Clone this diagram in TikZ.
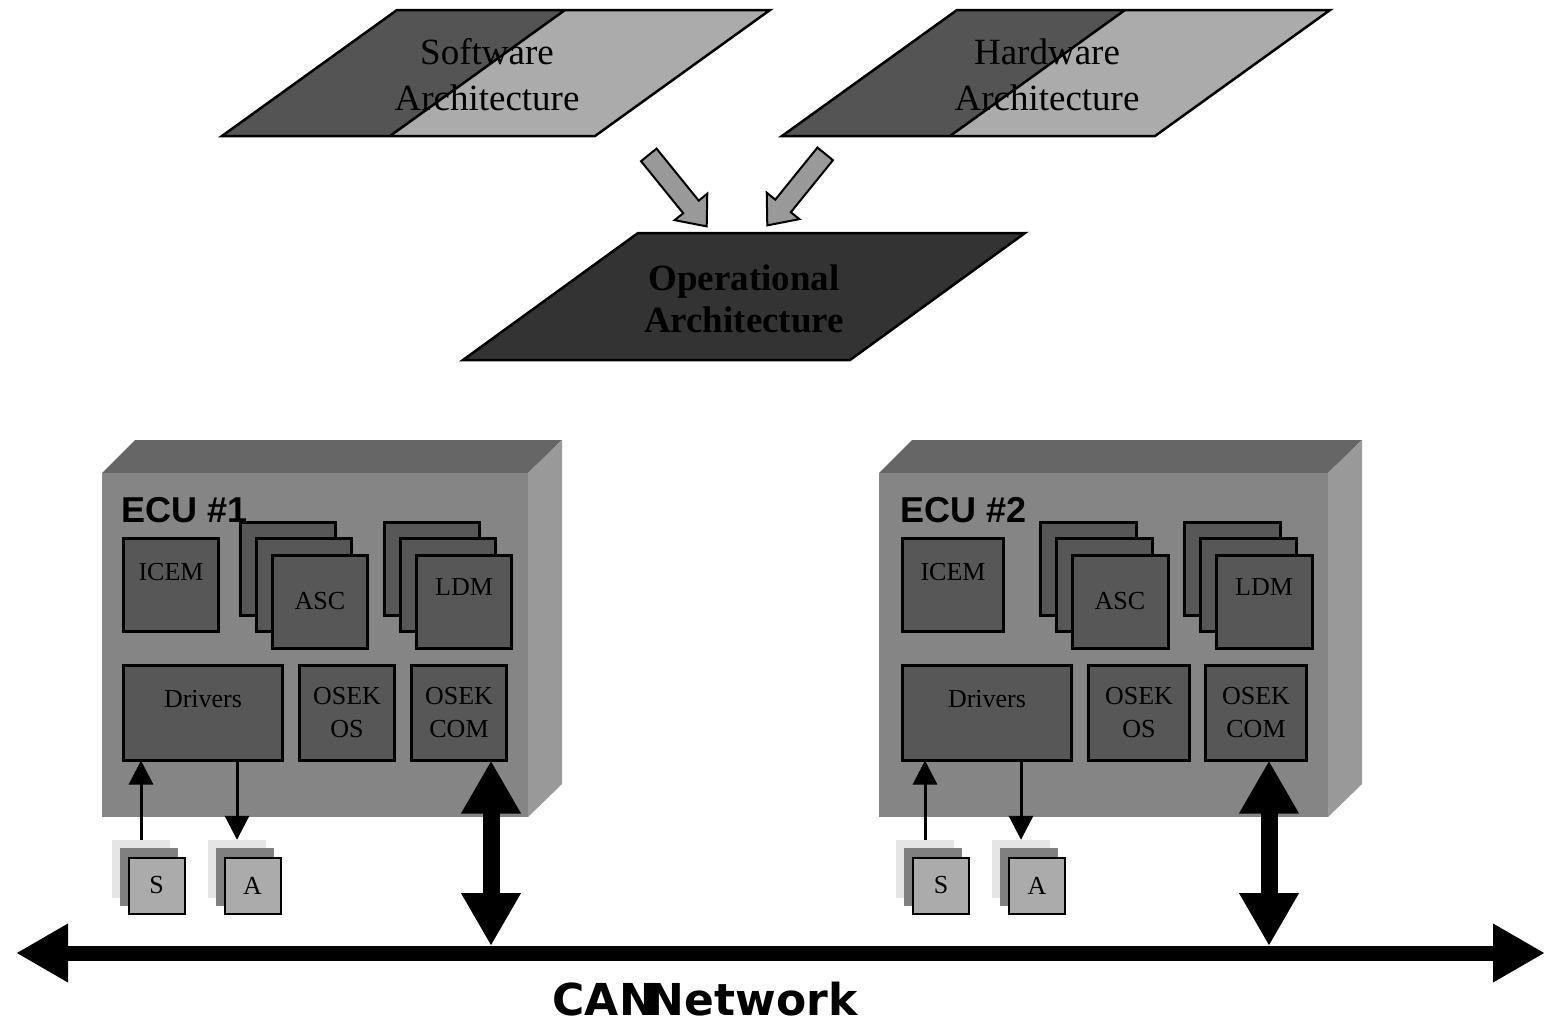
\documentclass[tikz,border=0pt]{standalone}
\usepackage{fontspec}
\setmainfont{Liberation Serif}
\newfontfamily\ecufont{Liberation Sans}
\newfontfamily\canfont{DejaVu Sans}
\usepackage{xcolor}
\usepackage{tikz}
\usetikzlibrary{shapes.arrows, arrows.meta, positioning, calc}

\definecolor{darkpart}{gray}{0.33}
\definecolor{lightpart}{gray}{0.67}
\definecolor{opgray}{gray}{0.2}
\definecolor{flowgray}{gray}{0.6}
\definecolor{ecufront}{gray}{0.52}
\definecolor{ecutop}{gray}{0.4}
\definecolor{ecuside}{gray}{0.6}
\definecolor{blkgray}{gray}{0.34}
\definecolor{iobright}{gray}{0.9}
\definecolor{iomid}{gray}{0.5}
\definecolor{iofront}{gray}{0.67}

\begin{document}
\begin{tikzpicture}[
    x=1pt, y=-1pt,
    plane/.style={draw=black, line width=2.5pt, line join=miter},
    archtxt/.style={font=\fontsize{37}{46}\selectfont, align=center, inner sep=0},
    optxt/.style={font=\fontsize{37}{42}\selectfont\bfseries, align=center, inner sep=0},
    flow/.style={single arrow, draw=black, line width=2pt, fill=flowgray, minimum height=92pt, inner xsep=0pt, inner ysep=9pt, single arrow head extend=11pt, single arrow tip angle=80},
    blk/.style={draw=black, line width=3pt, fill=blkgray, inner sep=0, outer sep=0, align=center, font=\fontsize{26}{33}\selectfont},
    blktxt/.style={font=\fontsize{26}{33}\selectfont, inner sep=0},
    ecutxt/.style={font=\ecufont\fontsize{36}{40}\selectfont\bfseries, inner sep=0, anchor=west},
    io/.style={minimum size=58pt, inner sep=0},
    iofr/.style={draw=black, line width=2pt, fill=iofront, minimum size=56pt, inner sep=0, font=\fontsize{26}{30}\selectfont},
    sig/.style={-{Triangle[width=24pt,length=24pt]}, line width=3pt},
    canlink/.style={{Triangle[width=56pt,length=53pt]}-{Triangle[width=56pt,length=53pt]}, line width=17pt},
    bus/.style={{Triangle[width=55pt,length=52pt]}-{Triangle[width=55pt,length=52pt]}, line width=15pt},
    cantxt/.style={font=\canfont\fontsize{44}{48}\selectfont\bfseries, inner sep=0}
]
    \useasboundingbox (0,0) rectangle (1547,1023);

    % architectures
    \fill[darkpart] (222,136) -- (390,136) -- (565,10) -- (397,10) -- cycle;
    \fill[lightpart] (390,136) -- (595,136) -- (770,10) -- (565,10) -- cycle;
    \draw[plane] (222,136) -- (595,136) -- (770,10) -- (397,10) -- cycle (390,136) -- (565,10);
    \node[archtxt] (sw) at (487,75) {Software\\Architecture};

    \fill[darkpart] (782,136) -- (950,136) -- (1125,10) -- (957,10) -- cycle;
    \fill[lightpart] (950,136) -- (1155,136) -- (1330,10) -- (1125,10) -- cycle;
    \draw[plane] (782,136) -- (1155,136) -- (1330,10) -- (957,10) -- cycle (950,136) -- (1125,10);
    \node[archtxt] (hw) at (1047,75) {Hardware\\Architecture};

    \draw[plane, fill=opgray] (463,360) -- (850,360) -- (1025,233) -- (638,233) -- cycle;
    \node[optxt] (op) at (744,299) {Operational\\Architecture};

    \node[flow, rotate=-51] (sw2op) at (674,186) {};
    \node[flow, rotate=-129] (hw2op) at (800,185) {};

    % ECU #1
    \fill[ecutop] (102,473) -- (135,440) -- (562,440) -- (528,473) -- cycle;
    \fill[ecuside] (528,473) -- (562,440) -- (562,784) -- (528,817) -- cycle;
    \fill[ecufront] (102,473) rectangle (528,817);
    \node[ecutxt] (ecu1) at (121,510) {ECU \#1};

    \node[blk, minimum width=95pt, minimum height=93pt] (icem1) at (171,585) {};
    \node[blktxt] (icem1t) at ($(icem1)+(0,-13)$) {ICEM};
    \node[blk, minimum width=95pt, minimum height=93pt] (asc1c) at (288,569) {};
    \node[blk, minimum width=95pt, minimum height=93pt] (asc1b) at (304,585) {};
    \node[blk, minimum width=95pt, minimum height=93pt] (asc1) at (320,601.5) {ASC};
    \node[blk, minimum width=95pt, minimum height=93pt] (ldm1c) at (432,569) {};
    \node[blk, minimum width=95pt, minimum height=93pt] (ldm1b) at (448,585) {};
    \node[blk, minimum width=95pt, minimum height=93pt] (ldm1) at (464,601.5) {};
    \node[blktxt] (ldm1t) at ($(ldm1)+(0,-14.5)$) {LDM};
    \node[blk, minimum width=159pt, minimum height=95pt] (drv1) at (203,713) {};
    \node[blktxt] (drv1t) at ($(drv1)+(0,-14)$) {Drivers};
    \node[blk, minimum width=95pt, minimum height=95pt] (os1) at (347,713) {OSEK\\OS};
    \node[blk, minimum width=95pt, minimum height=95pt] (com1) at (459,713) {OSEK\\COM};

    \node[io, fill=iobright] (s1c) at (141,869) {};
    \node[io, fill=iomid] (s1b) at (149,877) {};
    \node[iofr] (s1) at (156.5,885.5) {S};
    \node[io, fill=iobright] (a1c) at (237,869) {};
    \node[io, fill=iomid] (a1b) at (245,877) {};
    \node[iofr] (a1) at (252.5,885.5) {A};

    \draw[sig] (s1c.north) -- (s1c.north |- drv1.south);
    \draw[sig] (a1c.north |- drv1.south) -- (a1c.north);

    % ECU #2
    \fill[ecutop] (879,473) -- (912,440) -- (1362,440) -- (1328,473) -- cycle;
    \fill[ecuside] (1328,473) -- (1362,440) -- (1362,784) -- (1328,817) -- cycle;
    \fill[ecufront] (879,473) rectangle (1328,817);
    \node[ecutxt] (ecu2) at (900,510) {ECU \#2};

    \node[blk, minimum width=101pt, minimum height=93pt] (icem2) at (953,585) {};
    \node[blktxt] (icem2t) at ($(icem2)+(0,-13)$) {ICEM};
    \node[blk, minimum width=96pt, minimum height=93pt] (asc2c) at (1088.5,569) {};
    \node[blk, minimum width=96pt, minimum height=93pt] (asc2b) at (1104.5,585) {};
    \node[blk, minimum width=96pt, minimum height=93pt] (asc2) at (1120,601.5) {ASC};
    \node[blk, minimum width=96pt, minimum height=93pt] (ldm2c) at (1232.5,569) {};
    \node[blk, minimum width=96pt, minimum height=93pt] (ldm2b) at (1248.5,585) {};
    \node[blk, minimum width=96pt, minimum height=93pt] (ldm2) at (1264,601.5) {};
    \node[blktxt] (ldm2t) at ($(ldm2)+(0,-14.5)$) {LDM};
    \node[blk, minimum width=169pt, minimum height=95pt] (drv2) at (987,713) {};
    \node[blktxt] (drv2t) at ($(drv2)+(0,-14)$) {Drivers};
    \node[blk, minimum width=101pt, minimum height=95pt] (os2) at (1139,713) {OSEK\\OS};
    \node[blk, minimum width=101pt, minimum height=95pt] (com2) at (1256,713) {OSEK\\COM};

    \node[io, fill=iobright] (s2c) at (925,869) {};
    \node[io, fill=iomid] (s2b) at (933,877) {};
    \node[iofr] (s2) at (941,885.5) {S};
    \node[io, fill=iobright] (a2c) at (1021,869) {};
    \node[io, fill=iomid] (a2b) at (1029,877) {};
    \node[iofr] (a2) at (1037,885.5) {A};

    \draw[sig] (s2c.north) -- (s2c.north |- drv2.south);
    \draw[sig] (a2c.north |- drv2.south) -- (a2c.north);

    % CAN bus
    \coordinate (busL) at (16,953);
    \coordinate (busR) at (1545,953);
    \coordinate (tap1) at (491,946);
    \coordinate (tap2) at (1269,946);
    \draw[bus] (busL) -- (busR);
    \draw[canlink] (tap1 |- com1.south) -- (tap1);
    \draw[canlink] (tap2 |- com2.south) -- (tap2);
    \node[cantxt] (can) at (705,999) {CAN\kern-8pt Network};
\end{tikzpicture}
\end{document}
